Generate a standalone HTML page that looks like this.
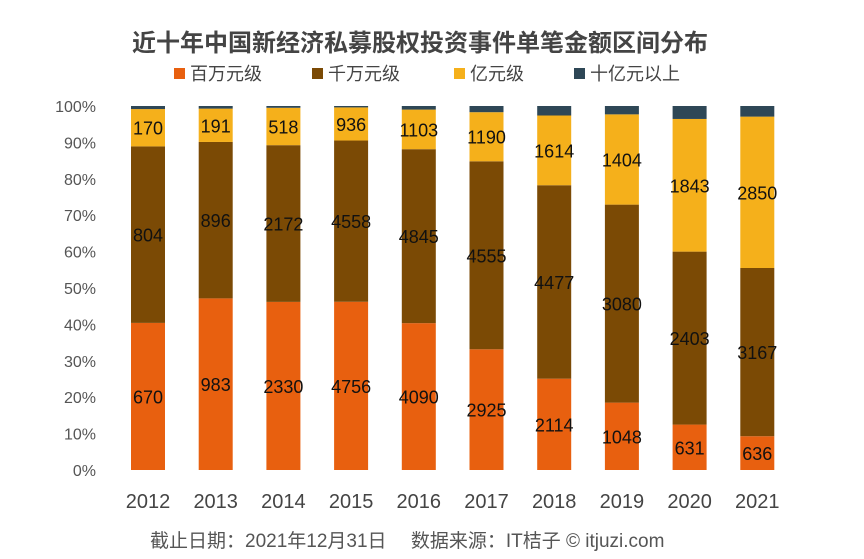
<!DOCTYPE html>
<html><head><meta charset="utf-8"><style>
body{margin:0;background:#fff;font-family:"Liberation Sans","Noto Sans CJK SC",sans-serif;}
svg text{font-family:"Liberation Sans","Noto Sans CJK SC",sans-serif;}
</style></head><body>
<svg id="c" width="864" height="554">
<text x="420" y="51" text-anchor="middle" font-size="24" font-weight="bold" fill="#444">近十年中国新经济私募股权投资事件单笔金额区间分布</text>
<g id="legend"></g>
<g id="axis"></g><g id="bars"></g>
<text x="150" y="547" font-size="19" fill="#555">截止日期：2021年12月31日　 数据来源：IT桔子 © itjuzi.com</text>
</svg>
<script>
const years=["2012","2013","2014","2015","2016","2017","2018","2019","2020","2021"];
const million=[670,983,2330,4756,4090,2925,2114,1048,631,636];
const tenMillion=[804,896,2172,4558,4845,4555,4477,3080,2403,3167];
const hundredMillion=[170,191,518,936,1103,1190,1614,1404,1843,2850];
const billion=[14,15,25,40,100,150,220,130,180,200];
const seriesNames=["百万元级","千万元级","亿元级","十亿元以上"];
const colors=["#E8600F","#7B4A05","#F5B01B","#2E4756"];
const ticks=[0,10,20,30,40,50,60,70,80,90,100];
const NS="http://www.w3.org/2000/svg";
const y=p=>470-p*3.64, x=i=>148+i*67.7, bw=34;
function mk(t,a,p){const e=document.createElementNS(NS,t);for(const k in a)e.setAttribute(k,a[k]);p.appendChild(e);return e;}
const ax=document.getElementById('axis'),bg=document.getElementById('bars'),lg=document.getElementById('legend');
ticks.forEach(t=>{const e=mk('text',{x:96,y:y(t)+6,'text-anchor':'end','font-size':16,fill:'#555'},ax);e.textContent=t+'%';

});
const lx=[190,328,470,590];
seriesNames.forEach((n,k)=>{const r=mk('rect',{x:lx[k]-16,y:68,width:11,height:11,fill:colors[k]},lg);


const t=mk('text',{x:lx[k],y:80,'font-size':18,fill:'#444'},lg);t.textContent=n;

});
const series=[million,tenMillion,hundredMillion,billion];
years.forEach((yr,i)=>{
 const tot=series.reduce((s,a)=>s+a[i],0);let acc=0;
 series.forEach((a,k)=>{const p0=acc/tot*100;acc+=a[i];const p1=acc/tot*100;
  const r=mk('rect',{x:x(i)-bw/2,y:y(p1),width:bw,height:y(p0)-y(p1),fill:colors[k]},bg);
  
  
  if(k<3){const t=mk('text',{x:x(i),y:(y(p0)+y(p1))/2+7,'text-anchor':'middle','font-size':18,fill:'#111'},bg);t.textContent=a[i];
  
  }
 });
 const t=mk('text',{x:x(i),y:508,'text-anchor':'middle','font-size':20,fill:'#444'},ax);t.textContent=yr;
 
 
});
</script>
</body></html>
